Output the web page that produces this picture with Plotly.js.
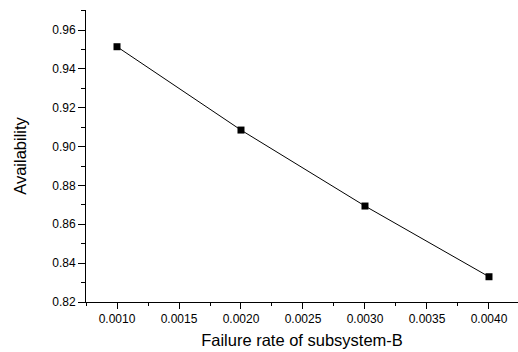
<!DOCTYPE html>
<html>
<head>
<meta charset="utf-8">
<script src="https://cdn.plot.ly/plotly-3.0.1.min.js"></script>
<style>html,body{margin:0;padding:0;background:#fff;}#chart{width:518px;height:352px;}</style>
</head>
<body>
<div id="chart"></div>
<script>
const failureRate = [0.0010, 0.0020, 0.0030, 0.0040];
const availability = [0.9514, 0.9085, 0.8694, 0.8330];
const xTitle = "Failure rate of subsystem-B";
const yTitle = "Availability";

const trace = {
  x: failureRate,
  y: availability,
  type: "scatter",
  mode: "lines+markers",
  line: {color: "#000", width: 1},
  marker: {symbol: "square", size: 7, color: "#000"},
  showlegend: false
};

const fam = "Liberation Sans, Arial, sans-serif";

const layout = {
  width: 518, height: 352,
  margin: {l: 86, r: 0, t: 10, b: 50, pad: 0},
  paper_bgcolor: "#fff", plot_bgcolor: "#fff",
  font: {family: fam, color: "#000"},
  xaxis: {
    range: [0.00075, 0.004234],
    tick0: 0.0010, dtick: 0.0005, tickformat: ".4f",
    ticks: "outside", ticklen: 6, tickwidth: 1, tickcolor: "#000",
    minor: {ticks: "outside", ticklen: 3, dtick: 0.00025, tick0: 0.00075, tickcolor: "#000", tickwidth: 1},
    showline: true, linecolor: "#000", linewidth: 1,
    showgrid: false, zeroline: false,
    tickfont: {size: 12, family: fam, color: "#000"},
    title: {text: xTitle, font: {size: 16.5, family: fam, color: "#000"}, standoff: 9}
  },
  yaxis: {
    range: [0.82, 0.9703],
    tick0: 0.82, dtick: 0.02, tickformat: ".2f",
    ticks: "outside", ticklen: 7, tickwidth: 1, tickcolor: "#000",
    minor: {ticks: "outside", ticklen: 4, dtick: 0.01, tickcolor: "#000", tickwidth: 1},
    showline: true, linecolor: "#000", linewidth: 1,
    showgrid: false, zeroline: false,
    tickfont: {size: 12, family: fam, color: "#000"},
    title: {text: yTitle, font: {size: 16.5, family: fam, color: "#000"}, standoff: 21}
  }
};

Plotly.newPlot("chart", [trace], layout, {displayModeBar: false, staticPlot: true});
</script>
</body>
</html>
